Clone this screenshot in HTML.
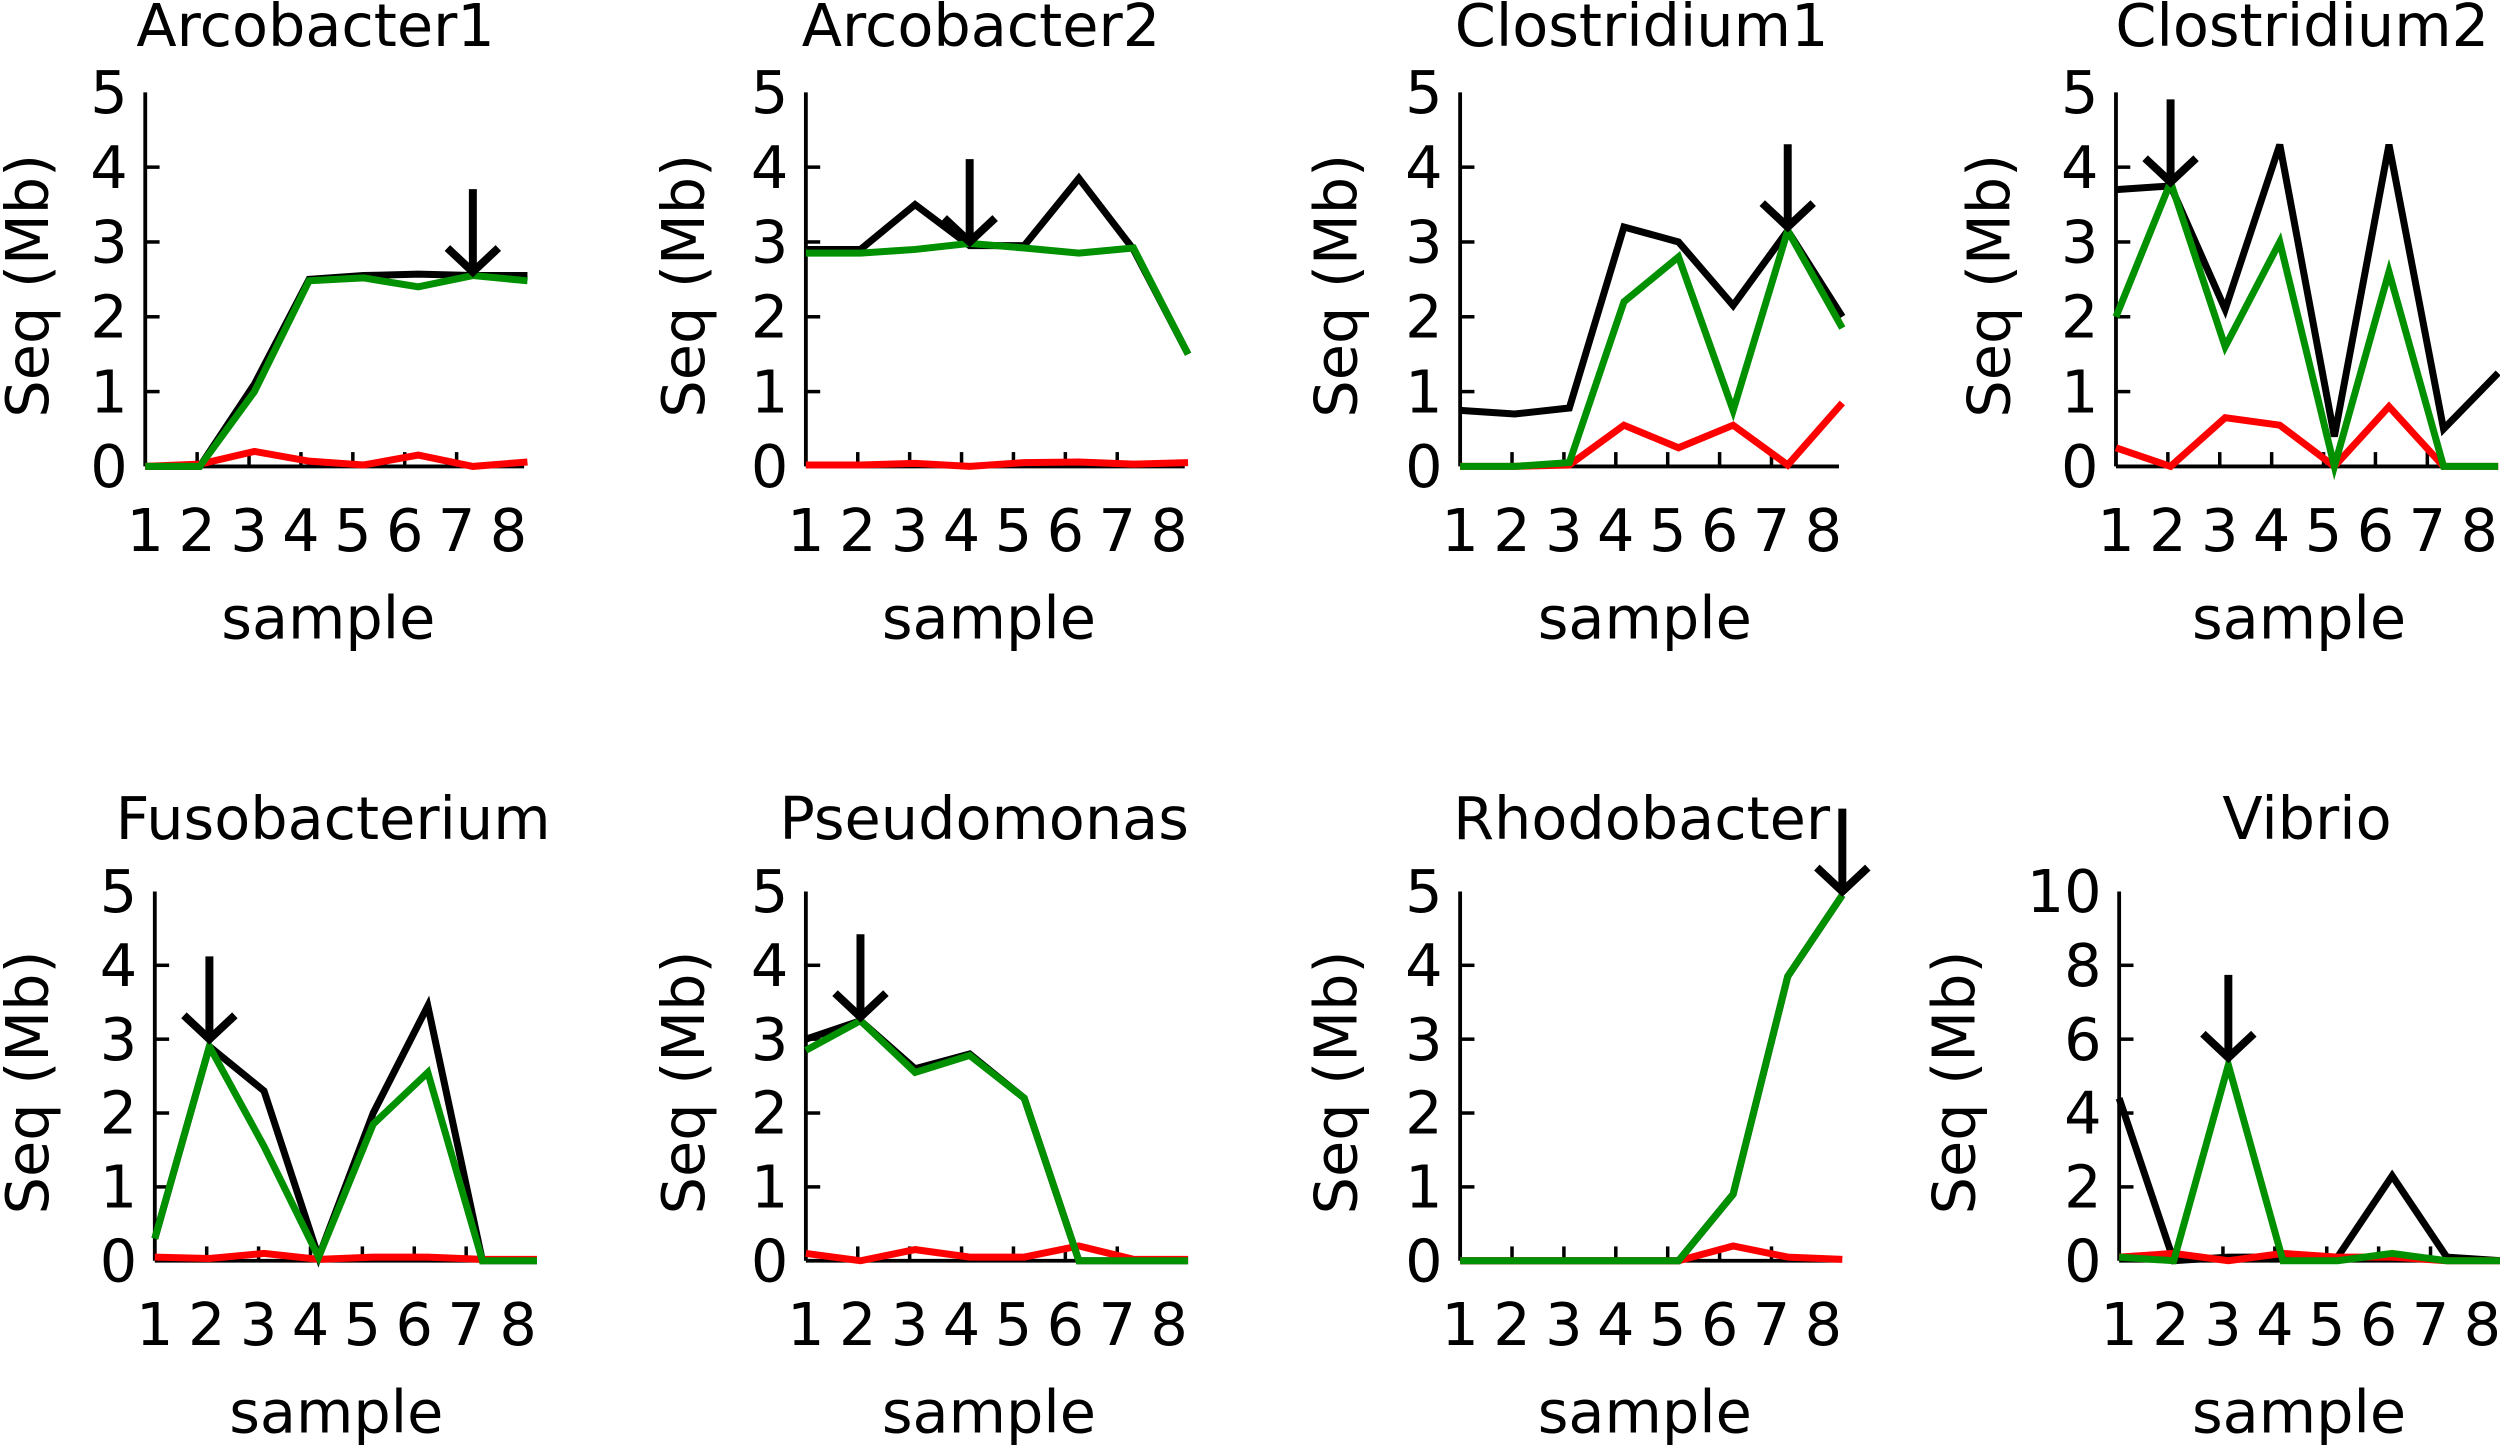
<!DOCTYPE html>
<html><head><meta charset="utf-8"><style>
html,body{margin:0;padding:0;background:#fff;}
svg{display:block;}
text{font-family:"DejaVu Sans","Liberation Sans",sans-serif;fill:#000;}
</style></head><body>
<svg id="fig" width="2500" height="1447" viewBox="0 0 1568 909" xmlns="http://www.w3.org/2000/svg"></svg>
<script>
const titles = ["Arcobacter1","Arcobacter2","Clostridium1","Clostridium2","Fusobacterium","Pseudomonas","Rhodobacter","Vibrio"];
const samples = [1,2,3,4,5,6,7,8];
const blackSeries = [
 [0,0,1.1,2.5,2.55,2.57,2.55,2.55],
 [2.9,2.9,3.5,2.95,2.95,3.85,2.9,1.5],
 [0.75,0.7,0.78,3.2,3.0,2.15,3.15,2.0],
 [3.7,3.75,2.1,4.3,0.4,4.3,0.5,1.25],
 [0.3,2.9,2.3,0.05,2.0,3.45,0,0],
 [3.0,3.25,2.6,2.8,2.2,0,0,0],
 [0,0,0,0,0,0.9,3.85,4.95],
 [4.4,0,0.1,0.1,0.1,2.3,0.1,0]
];
const greenSeries = [
 [0,0,1.0,2.48,2.52,2.4,2.55,2.48],
 [2.85,2.85,2.9,2.98,2.92,2.85,2.92,1.5],
 [0,0,0.05,2.2,2.8,0.75,3.15,1.85],
 [2.0,3.8,1.6,3.0,0.0,2.6,0,0],
 [0.3,2.9,1.55,0.05,1.85,2.55,0,0],
 [2.85,3.25,2.55,2.78,2.2,0,0,0],
 [0,0,0,0,0,0.9,3.85,4.95],
 [0.1,0,5.3,0,0,0.2,0,0]
];
const redSeries = [
 [0,0.03,0.2,0.07,0.02,0.15,0.0,0.06],
 [0.02,0.02,0.04,0.0,0.05,0.06,0.03,0.05],
 [0,0,0.02,0.55,0.25,0.55,0.02,0.85],
 [0.25,0,0.65,0.55,0,0.8,0,0],
 [0.05,0.03,0.1,0.02,0.05,0.05,0.02,0.02],
 [0.1,0,0.15,0.05,0.05,0.2,0.02,0.02],
 [0,0,0,0,0,0.2,0.05,0.02],
 [0.1,0.2,0,0.2,0.1,0.1,0,0]
];
const arrowSample = [7,4,7,2,2,2,8,3];
const arrowValue = [2.6,3.0,3.2,3.8,3.0,3.3,5.0,5.5];
const yMax = [5,5,5,5,5,5,5,10];
const yTickLabels = [
 ["0","1","2","3","4","5"],["0","1","2","3","4","5"],["0","1","2","3","4","5"],["0","1","2","3","4","5"],
 ["0","1","2","3","4","5"],["0","1","2","3","4","5"],["0","1","2","3","4","5"],["0","2","4","6","8","10"]
];

const NS="http://www.w3.org/2000/svg";
const svg=document.getElementById('fig');
function mk(tag,attrs,parent){const e=document.createElementNS(NS,tag);for(const k in attrs)e.setAttribute(k,attrs[k]);(parent||svg).appendChild(e);return e;}

const axisXs=[90,505,916,1328,96,505,916,1330];
const rowY0=[293,792], rowTop=[58,560];
const titleXs=[197,615,1030,1445,208,617,1030,1448];
const sampleXs=[205,620,1032,1443,210,620,1032,1443];
const seqXs=[16,428,838,1248,16,428,838,1226];
const tickStep=32.6, ptStep=34.3, FS=37;

for(let p=0;p<8;p++){
  const r=p<4?0:1;
  const ax=axisXs[p], y0=rowY0[r], yt=rowTop[r];
  const g=mk('g',{});
  
  
  const ys=v=>y0-(v/yMax[p])*(y0-yt);
  const xs=i=>ax+(i-1)*ptStep;
  const t=mk('text',{x:titleXs[p],y:r?527:29,'font-size':FS,'text-anchor':'middle'},g);
  t.textContent=titles[p];
  
  
  const ya=mk('line',{x1:ax,y1:yt,x2:ax,y2:y0,stroke:'#000','stroke-width':2.4},g);
  
  
  const xa=mk('line',{x1:ax,y1:y0,x2:ax+238,y2:y0,stroke:'#000','stroke-width':2.4},g);
  
  
  for(let k=0;k<6;k++){
    const yy=y0-k*(y0-yt)/5;
    if(k>0&&k<5){mk('line',{x1:ax,y1:yy,x2:ax+9,y2:yy,stroke:'#000','stroke-width':2.2},g);}
    const lb=mk('text',{x:ax-11,y:yy+13,'font-size':FS,'text-anchor':'end'},g);
    lb.textContent=yTickLabels[p][k];
    
    
  }
  for(let i=0;i<samples.length;i++){
    const xx=ax+i*tickStep;
    if(i>0&&i<7){mk('line',{x1:xx,y1:y0,x2:xx,y2:y0-9,stroke:'#000','stroke-width':2.2},g);}
    const lb=mk('text',{x:xx,y:y0+53,'font-size':FS,'text-anchor':'middle'},g);
    lb.textContent=String(samples[i]);
    
    
  }
  const xl=mk('text',{x:sampleXs[p],y:y0+108,'font-size':FS,'text-anchor':'middle'},g);
  xl.textContent='sample';
  
  
  const ycy=(y0+yt)/2+4;
  const yl=mk('text',{x:seqXs[p]+13,y:ycy,'font-size':FS,'text-anchor':'middle',transform:'rotate(-90 '+(seqXs[p]+13)+' '+ycy+')'},g);
  yl.textContent='Seq (Mb)';
  
  
  const ser=[[blackSeries,'#000','series-total'],[redSeries,'#ff0000','series-red'],[greenSeries,'#009000','series-green']];
  for(const [arr,col,nm] of ser){
    const pts=arr[p].map((v,i)=>xs(i+1).toFixed(1)+','+ys(v).toFixed(1)).join(' ');
    const pl=mk('polyline',{points:pts,fill:'none',stroke:col,'stroke-width':4.4,'stroke-linejoin':'miter'},g);
    
    
  }
  const axp=xs(arrowSample[p]), ayp=ys(arrowValue[p]);
  const ar=mk('path',{d:'M'+axp+','+(ayp-52)+' L'+axp+','+ayp+' M'+(axp-16)+','+(ayp-15)+' L'+axp+','+ayp+' L'+(axp+16)+','+(ayp-15),fill:'none',stroke:'#000','stroke-width':5},g);
  
  
}
</script>
</body></html>
